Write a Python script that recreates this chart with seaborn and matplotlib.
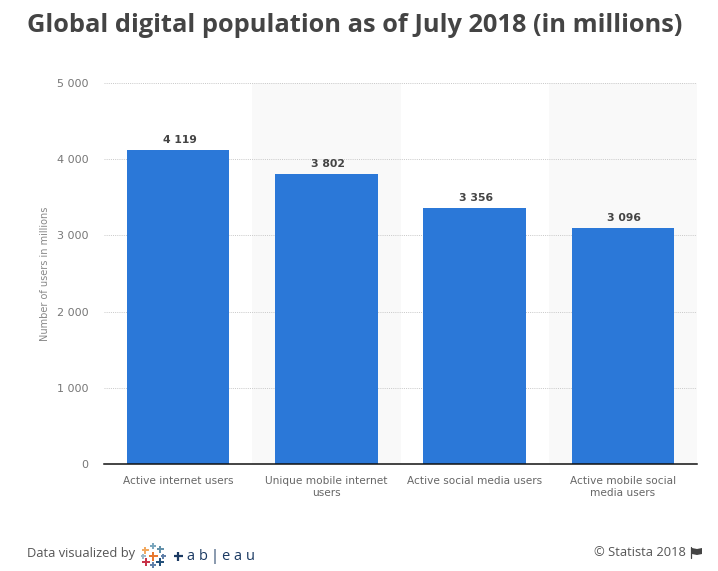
#!/usr/bin/env python3
# Global digital population bar chart, Statista look

import matplotlib.pyplot as plt
from matplotlib.lines import Line2D
from matplotlib.patches import Polygon
import pandas as pd
import seaborn as sns

categories = ["Active internet users", "Unique mobile internet\nusers",
              "Active social media users", "Active mobile social\nmedia users"]
users = [4119, 3802, 3356, 3096]
y_ticks = [0, 1000, 2000, 3000, 4000, 5000]

W, H = 718, 571
BLUE = "#2b78d8"


def fx(px):
    return px / W


def fy(py):
    return 1 - py / H


def spaced(v):
    return f"{v:,}".replace(",", " ")


def plus(fig, x, y, size, color, lw=1.4):
    fig.add_artist(Line2D([fx(x - size), fx(x + size)], [fy(y), fy(y)],
                          color=color, lw=lw, solid_capstyle="butt"))
    fig.add_artist(Line2D([fx(x), fx(x)], [fy(y - size), fy(y + size)],
                          color=color, lw=lw, solid_capstyle="butt"))


sns.set_theme(style="white")
plt.rcParams["font.family"] = ["DejaVu Sans"]

df = pd.DataFrame({"category": categories, "users": users})

fig = plt.figure(figsize=(W / 100, H / 100), dpi=100)
ax = fig.add_axes([fx(104), fy(464), fx(697 - 104), (464 - 83) / H])

# alternate column shading sits under everything
for start in [0.5, 2.5]:
    ax.axvspan(start, start + 1, color="#f9f9f9", lw=0, zorder=0)

sns.barplot(data=df, x="category", y="users", color=BLUE, saturation=1,
            width=0.69, linewidth=0, ax=ax, zorder=3)

ax.set_xlim(-0.5, 3.5)
ax.set_ylim(0, 5000)
ax.set_yticks(y_ticks)
ax.set_yticklabels([spaced(v) for v in y_ticks], fontsize=8, color="#777777")
ax.grid(axis="y", color="#c8c8c8", linestyle=(0, (1, 1.2)), linewidth=0.7, zorder=1)
ax.grid(axis="x", visible=False)
ax.set_axisbelow(True)
ax.tick_params(axis="y", length=0, pad=11)
ax.tick_params(axis="x", length=0, pad=9, labelsize=7.6, labelcolor="#666666")
plt.setp(ax.get_xticklabels(), linespacing=1.25)
ax.set_xlabel("")
ax.set_ylabel("Number of users in millions", fontsize=7, color="#888888")
ax.yaxis.set_label_coords((50 - 104) / (697 - 104), 0.5)

for s in ["top", "left", "right"]:
    ax.spines[s].set_visible(False)
ax.spines["bottom"].set_color("#111111")
ax.spines["bottom"].set_linewidth(1.1)
ax.spines["bottom"].set_zorder(5)

for i, v in enumerate(users):
    ax.annotate(spaced(v), (i, v), xytext=(1, 3.5), textcoords="offset points",
                ha="center", va="bottom", fontsize=7.8, fontweight="bold",
                color="#444444")

fig.text(fx(27), fy(25.5), "Global digital population as of July 2018 (in millions)",
         family="Open Sans", fontweight="bold", fontsize=18.3, color="#444444",
         ha="left", va="center")

fig.text(fx(27), fy(554), "Data visualized by", family="Open Sans", fontsize=9.3,
         color="#555555", ha="left", va="center")
fig.text(fx(686), fy(552.5), "© Statista 2018", family="Open Sans", fontsize=9.3,
         color="#555555", ha="right", va="center")

# tableau logo
for x, y, s, c in [(153, 556, 4.5, "#e8762c"), (145, 550, 3.5, "#f2a75c"),
                   (160, 549, 3.5, "#5f8ea8"), (153, 546, 3, "#7aa6bd"),
                   (146, 562, 4, "#c72f45"), (160, 562, 4, "#1f4e79"),
                   (153, 565, 3, "#5f7fa8"), (143, 556, 2.5, "#9fb8c8"),
                   (163, 556, 2.5, "#5f7fa8")]:
    plus(fig, x, y, s, c)
plus(fig, 178, 556, 4.5, "#1b3a63", lw=1.6)
for x, ch in [(190, "a"), (203, "b"), (214, "|"), (225, "e"), (237, "a"), (250, "u")]:
    fig.text(fx(x), fy(556), ch, family="Open Sans", fontsize=10.5, color="#1b3a63",
             ha="center", va="center")

# flag icon
fig.add_artist(Line2D([fx(691), fx(691)], [fy(547), fy(558)], color="#444444", lw=0.9))
fig.add_artist(Polygon([(fx(692), fy(548)), (fx(697), fy(549)), (fx(702), fy(548)),
                        (fx(702), fy(554)), (fx(697), fy(555)), (fx(692), fy(554))],
                       closed=True, color="#444444", lw=0,
                       transform=fig.transFigure))

fig.savefig("out.png", dpi=100)
plt.close(fig)
